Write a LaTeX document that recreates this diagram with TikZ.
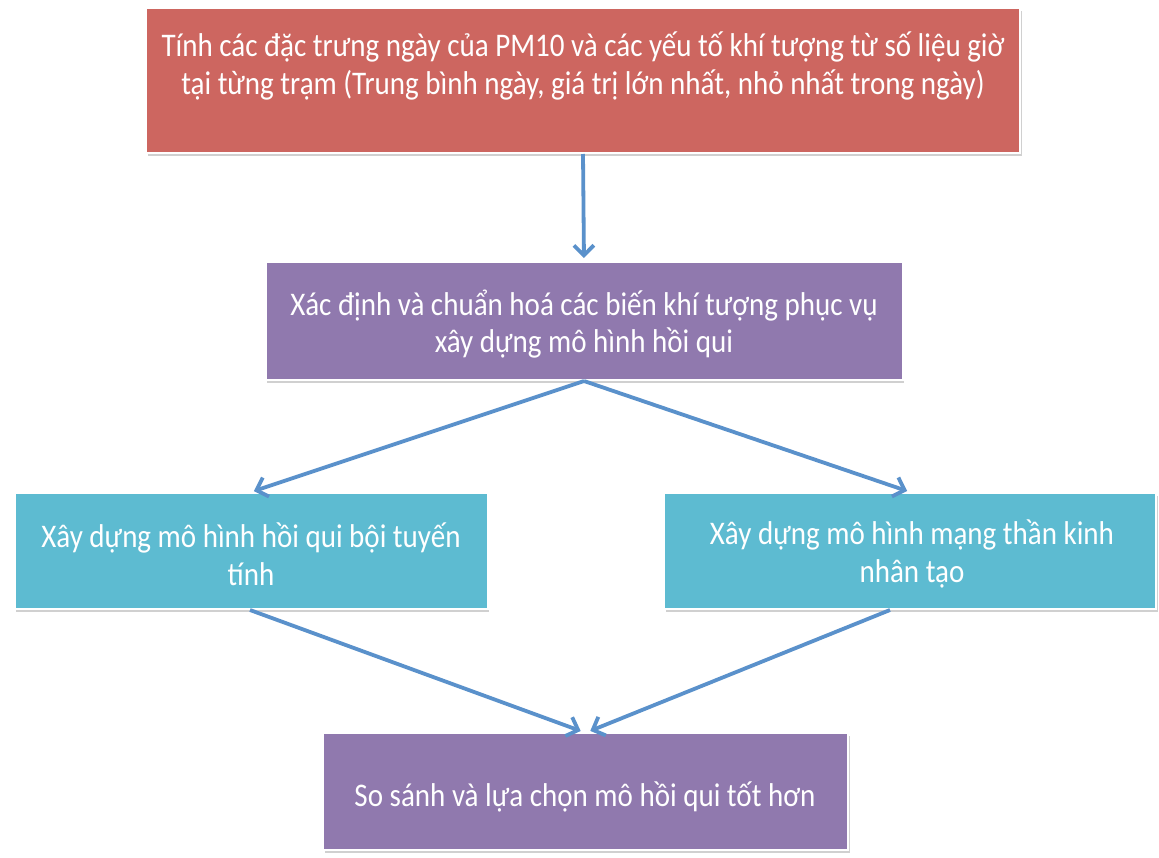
\documentclass[tikz,border=0pt]{standalone}
\usepackage{fontspec}
\setmainfont{Carlito}[FakeStretch=0.88]
\usetikzlibrary{arrows.meta,shadows}
\definecolor{redbox}{HTML}{CD6660}
\definecolor{purplebox}{HTML}{9079AE}
\definecolor{cyanbox}{HTML}{5DBBD1}
\definecolor{arrowblue}{HTML}{5A91CB}
\begin{document}
\begin{tikzpicture}[x=1pt,y=-1pt,
  box/.style n args={3}{draw=white, line width=2pt, fill=#1, minimum width=#2pt, minimum height=#3pt, inner sep=0pt,
    drop shadow={shadow xshift=1.5pt, shadow yshift=-3pt, opacity=0.3, fill=black!60}},
  txt/.style={text=white, align=center, inner sep=0pt, font=\fontsize{33}{37.5}\selectfont},
  arr/.style={draw=arrowblue, line width=3.8pt, -{Straight Barb[length=10pt,width=20pt,line width=3.8pt]}, shorten >=3pt}]
\useasboundingbox (0,0) rectangle (1159,857);
\fill[white] (0,0) rectangle (1159,857);
% boxes
\node[box={redbox}{874}{145}] (b1) at (583,80.5) {};
\node[box={purplebox}{637}{118}] (b2) at (584,321) {};
\node[box={cyanbox}{473}{116}] (b3) at (251,551) {};
\node[box={cyanbox}{492}{116}] (b4) at (910,551) {};
\node[box={purplebox}{525}{117}] (b5) at (585.5,791.5) {};
% texts
\node[txt] (t1) at (583,66) {Tính các đặc trưng ngày của PM10 và các yếu tố khí tượng từ số liệu giờ\\tại từng trạm (Trung bình ngày, giá trị lớn nhất, nhỏ nhất trong ngày)};
\node[txt] (t2) at (584,324) {Xác định và chuẩn hoá các biến khí tượng phục vụ\\xây dựng mô hình hồi qui};
\node[txt] (t3) at (251,554) {Xây dựng mô hình hồi qui bội tuyến\\tính};
\node[txt] (t4) at (912,554) {Xây dựng mô hình mạng thần kinh\\nhân tạo};
\node[txt] (t5) at (585,797) {So sánh và lựa chọn mô hồi qui tốt hơn};
% connectors
\draw[arr] (b1.south) -- (b2.north);
\draw[arr] (b2.south) -- (b3.north);
\draw[arr] (b2.south) -- (b4.north);
\draw[arr] ([xshift=-1pt]b3.south) -- ([xshift=-2pt]b5.north);
\draw[arr] ([xshift=-20pt]b4.south) -- ([xshift=2pt]b5.north);
\end{tikzpicture}
\end{document}
